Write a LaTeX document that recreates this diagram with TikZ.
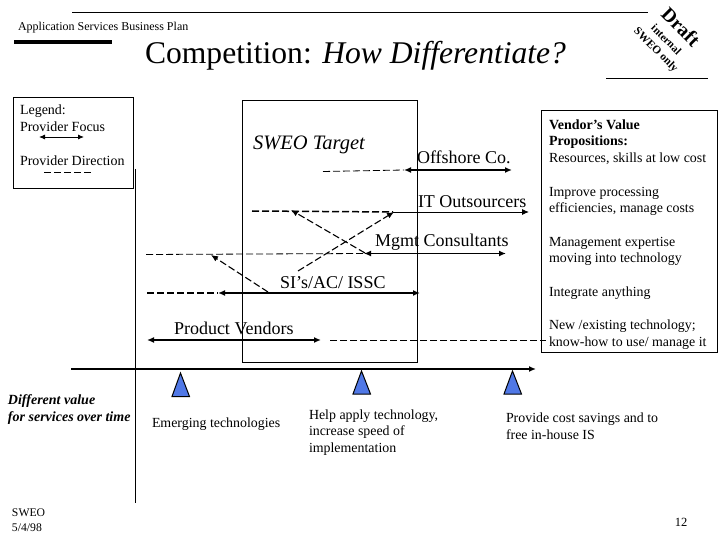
\documentclass[tikz,border=0pt]{standalone}
\usepackage{fontspec}
\setmainfont{Liberation Serif}
\usetikzlibrary{arrows.meta}
\definecolor{triblue}{RGB}{80,120,230}
\tikzset{
 every node/.style={inner sep=0pt,outer sep=0pt,text=black},
 big/.style={font=\fontsize{18}{20}\selectfont,anchor=base west},
 small/.style={font=\fontsize{13.9}{16.5}\selectfont,align=left,anchor=base west},
 legendtxt/.style={font=\fontsize{14}{16}\selectfont,anchor=base west},
 boldsmall/.style={font=\bfseries\fontsize{14}{16.5}\selectfont,align=left,anchor=base west},
 focus/.style={line width=1.6pt,{Latex[length=7pt,width=6pt]}-{Latex[length=7pt,width=6pt]}},
 thinfocus/.style={line width=0.9pt,-{Latex[length=7pt,width=6pt]}},
 dirthin/.style={line width=0.8pt,dash pattern=on 7pt off 3pt},
 dirthick/.style={line width=1.5pt,dash pattern=on 7pt off 3pt},
 dirarrow/.style={line width=1.1pt,dash pattern=on 7pt off 3pt,-{Latex[length=7pt,width=6pt]}},
 mark tri/.style={draw=black,line width=1pt,fill=triblue,line join=miter},
}
\begin{document}
\begin{tikzpicture}[x=1pt,y=-1pt,line cap=butt]
\useasboundingbox (0,0) rectangle (720,540);
\coordinate (ta) at (72,12.5); \coordinate (tb) at (648,12.5);
\coordinate (tc) at (606,78.5); \coordinate (td) at (708,78.5);
\coordinate (ba) at (14,42); \coordinate (bb) at (112,42);
\draw[line width=0.8pt] (ta)--(tb);
\draw[line width=0.8pt] (tc)--(td);
\draw[line width=3.5pt] (ba)--(bb);
\node[font=\fontsize{12}{14}\selectfont,anchor=base west] (plan) at (18,31) {Application Services Business Plan};
\node[font=\fontsize{31.6}{34}\selectfont,anchor=base west] (title) at (145,64) {Competition: \textit{How Differentiate?}};
% draft stamp
\node[font=\bfseries\fontsize{19.5}{22}\selectfont,rotate=-45] (draft) at (681,27) {Draft};
\node[font=\bfseries\fontsize{11}{13}\selectfont,rotate=-45] (internal) at (666.5,39.5) {internal};
\node[font=\bfseries\fontsize{11.3}{13}\selectfont,rotate=-45] (sweo) at (655.5,50) {SWEO only};
% legend
\node[draw=black,line width=0.8pt,minimum width=120pt,minimum height=91pt,anchor=north west] (legend) at (13.5,97.5) {};
\node[legendtxt] (l1) at (20,114.5) {Legend:};
\node[legendtxt] (l2) at (20,132) {Provider Focus};
\node[legendtxt] (l3) at (20,165.5) {Provider Direction};
\coordinate (lfa) at (39,137); \coordinate (lfb) at (84,137);
\draw[line width=0.9pt,{Latex[length=6pt,width=5pt]}-{Latex[length=6pt,width=5pt]}] (lfa)--(lfb);
\coordinate (lda) at (44,172.5); \coordinate (ldb) at (93,172.5);
\draw[dirthick] (lda)--(ldb);
% target
\node[draw=black,line width=0.8pt,minimum width=174.5pt,minimum height=262pt,anchor=north west] (target) at (242.5,100.5) {};
\node[font=\itshape\fontsize{20.5}{22}\selectfont,anchor=base west] (tgt) at (253,150) {SWEO Target};
% axes
\coordinate (va) at (135,169); \coordinate (vb) at (135,503);
\draw[line width=0.8pt] (va)--(vb);
\coordinate (ha) at (71,369); \coordinate (hb) at (536,369);
\draw[line width=1.8pt,-{Latex[length=7pt,width=6pt]}] (ha)--(hb);
% rows
\node[big] (off) at (417,164) {Offshore Co.};
\coordinate (o0) at (323,171.5); \coordinate (o1) at (404,170); \coordinate (o2) at (512,170);
\draw[dirthin] (o0)--(o1); \draw[focus] (o1)--(o2);

\node[big] (it) at (418,207.5) {IT Outsourcers};
\coordinate (i0) at (252,211); \coordinate (i1) at (393,212); \coordinate (i2) at (529,212);
\draw[dirthick] (i0)--(i1); \draw[thinfocus] (i1)--(i2);

\node[big] (mg) at (375,247) {Mgmt Consultants};
\coordinate (m0) at (146,254.5); \coordinate (m1) at (364,253.5); \coordinate (m2) at (506,253.5);
\draw[dirthin] (m0)--(m1); \draw[focus] (m1)--(m2);

\node[big] (si) at (280,288) {SI’s/AC/ ISSC};
\coordinate (s0) at (147,293); \coordinate (s1) at (218,293); \coordinate (s2) at (420,293);
\draw[dirthick] (s0)--(s1); \draw[focus] (s1)--(s2);

\node[big] (pv) at (174,334) {Product Vendors};
\coordinate (p1) at (147,340); \coordinate (p2) at (321,340); \coordinate (p3) at (330,340.5); \coordinate (p4) at (546,340.5);
\draw[focus] (p1)--(p2); \draw[dirthin] (p3)--(p4);
% diagonals
\coordinate (d1a) at (365,253); \coordinate (d1b) at (291,210);
\draw[dirarrow] (d1a)--(d1b);
\coordinate (d2a) at (298,271); \coordinate (d2b) at (394,212);
\draw[dirarrow] (d2a)--(d2b);
\coordinate (d3a) at (268,292); \coordinate (d3b) at (211,255);
\draw[dirarrow] (d3a)--(d3b);
% vendor box
\node[draw=black,line width=0.8pt,minimum width=176pt,minimum height=241.5pt,anchor=north west] (vbox) at (541,110.5) {};
\node[boldsmall] (v1) at (549,129.5) {Vendor’s Value};
\node[boldsmall] (v2) at (549,146) {Propositions:};
\node[small] (v3) at (549,162.5) {Resources, skills at low cost};
\node[small] (v4) at (549,212.5) {Improve processing\\efficiencies, manage costs};
\node[small] (v5) at (549,262.5) {Management expertise\\moving into technology};
\node[small] (v6) at (549,296.5) {Integrate anything};
\node[small] (v7) at (549,346) {New /existing technology;\\know-how to use/ manage it};
% triangles
\path[mark tri] (180.5,373)--(172,396.5)--(189.5,396.5)--cycle;
\path[mark tri] (361.5,371)--(353,394)--(370.5,394)--cycle;
\path[mark tri] (512.5,371)--(504,394)--(521.5,394)--cycle;
% lower labels
\node[font=\bfseries\itshape\fontsize{14}{17}\selectfont,align=left,anchor=base west] (dv) at (8,421) {Different value\\for services over time};
\node[small] (e1) at (152,427) {Emerging technologies};
\node[small] (e2) at (309,452) {Help apply technology,\\increase speed of\\implementation};
\node[small] (e3) at (506,439) {Provide cost savings and to\\free in-house IS};
\node[font=\fontsize{11.7}{14.5}\selectfont,align=left,anchor=base west] (dt) at (12,531) {SWEO\\5/4/98};
\node[font=\fontsize{12.5}{14}\selectfont] (pg) at (681,522) {12};
\end{tikzpicture}
\end{document}
